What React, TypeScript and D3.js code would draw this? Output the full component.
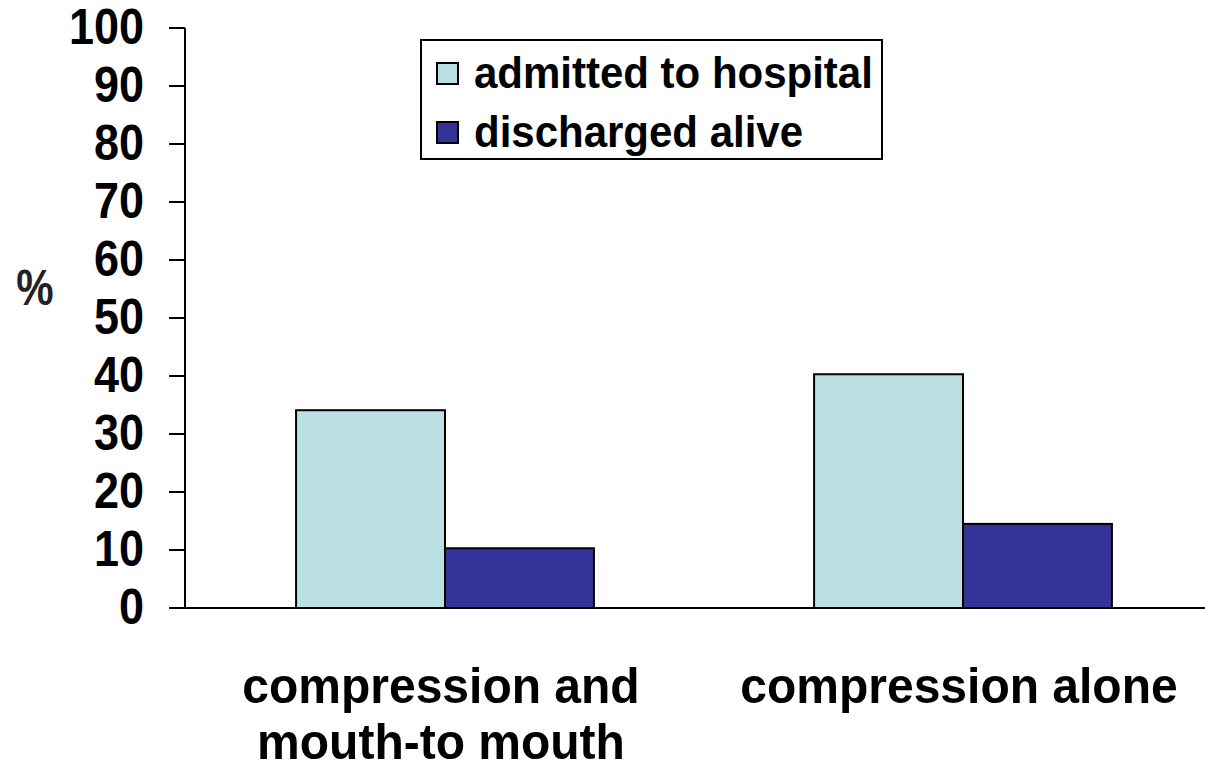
import React from "react";
import * as d3 from "d3";

const categories = ["compression and\nmouth-to mouth", "compression alone"];
const seriesNames = ["admitted to hospital", "discharged alive"];
const admitted = [34.1, 40.3];
const discharged = [10.3, 14.5];
const yTicks = [0, 10, 20, 30, 40, 50, 60, 70, 80, 90, 100];
const colors = ["#BBE0E3", "#333399"];

const W = 1205;
const H = 768;
const FONT = "'Liberation Sans', Arial, Helvetica, sans-serif";

// Text drawn with a slight vertical stretch, anchored at its baseline.
function Label({
  x,
  y,
  k = 1,
  size,
  anchor = "start",
  fill = "#000",
  children,
}: {
  x: number;
  y: number;
  k?: number;
  size: number;
  anchor?: "start" | "middle" | "end";
  fill?: string;
  children: React.ReactNode;
}) {
  return (
    <text
      transform={`translate(${x},${y}) scale(1,${k})`}
      textAnchor={anchor}
      fontSize={size}
      fill={fill}
    >
      {children}
    </text>
  );
}

export default function App() {
  const x0 = d3
    .scaleBand<string>()
    .domain(categories)
    .range([186, 1222])
    .paddingInner(0.425)
    .paddingOuter(0.2125);
  const x1 = d3.scaleBand<string>().domain(seriesNames).range([0, x0.bandwidth()]).padding(0);
  const y = d3.scaleLinear().domain([0, 100]).range([608, 28]);
  const values = [admitted, discharged];
  const axisX = 185;

  return (
    <svg
      width={W}
      height={H}
      style={{ position: "absolute", left: 0, top: 0, background: "#fff" }}
      fontFamily={FONT}
      fontWeight="bold"
    >
      <rect x={0} y={0} width={W} height={H} fill="#fff" />
      {/* bars */}
      {categories.map((c, ci) =>
        seriesNames.map((s, si) => {
          const v = values[si][ci];
          return (
            <rect
              key={c + s}
              x={(x0(c) ?? 0) + (x1(s) ?? 0)}
              y={y(v)}
              width={x1.bandwidth()}
              height={y(0) - y(v)}
              fill={colors[si]}
              stroke="#000"
              strokeWidth={2}
            />
          );
        })
      )}
      {/* y axis */}
      <line x1={axisX} x2={axisX} y1={y(100)} y2={y(0)} stroke="#000" strokeWidth={2} />
      {yTicks.map((t) => (
        <g key={t}>
          <line x1={169} x2={axisX} y1={y(t)} y2={y(t)} stroke="#000" strokeWidth={2} />
          <Label x={144} y={y(t) + 16} k={1.1} size={45} anchor="end">
            {t}
          </Label>
        </g>
      ))}
      {/* x axis */}
      <line x1={169} x2={W} y1={y(0)} y2={y(0)} stroke="#000" strokeWidth={2} />
      {categories.map((c) => {
        const cx = (x0(c) ?? 0) + x0.bandwidth() / 2;
        return c.split("\n").map((line, li) => (
          <Label key={c + li} x={cx - 4} y={703 + li * 56} k={1.06} size={48} anchor="middle">
            {line}
          </Label>
        ));
      })}
      <Label x={35} y={305} k={1.2} size={42} anchor="middle" fill="#222">
        %
      </Label>
      {/* legend */}
      <rect x={421} y={40} width={461} height={119} fill="#fff" stroke="#000" strokeWidth={2} />
      {seriesNames.map((s, i) => (
        <g key={s}>
          <rect x={437} y={63 + i * 59} width={21} height={21} fill={colors[i]} stroke="#000" strokeWidth={2} />
          <Label x={474} y={88 + i * 59} k={1.05} size={42}>
            {s}
          </Label>
        </g>
      ))}
    </svg>
  );
}
